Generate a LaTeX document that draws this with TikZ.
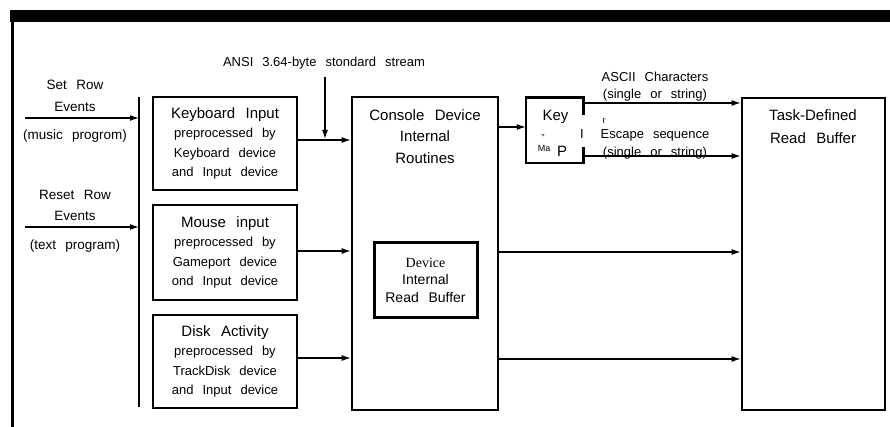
\documentclass[tikz,border=0pt]{standalone}
\usepackage{fontspec}
\setmainfont{Liberation Sans}[WordSpace=2.5]
\newfontfamily\devserif{Liberation Serif}
\usetikzlibrary{arrows.meta}
\tikzset{
  box/.style={draw, line width=2.6pt, inner sep=0pt, align=center},
  hd/.style={font=\fontsize{15}{21.5}\selectfont},
  bd/.style={font=\fontsize{13}{19.3}\selectfont},
  lft/.style={font=\fontsize{13.5}{16}\selectfont, inner sep=0pt},
  lbl/.style={inner sep=0pt, align=center},
  conn/.style={line width=1.3pt},
  arr/.style={conn, -{Latex[length=9pt,width=6pt]}},
  tiny/.style={font=\fontsize{9}{10}\selectfont, inner sep=0pt}
}
\begin{document}
\begin{tikzpicture}[x=1pt,y=1pt]
\useasboundingbox (0,0) rectangle (890,-427);
% frame
\fill (10,-10) rectangle (890,-22);
\draw[line width=2.2pt] (12.5,-10) -- (12.5,-427);

% left labels and bracket
\coordinate (brkT) at (139,-97);
\coordinate (brkB) at (139,-407);
\draw[line width=1.8pt] (brkT) -- (brkB);
\node[lft] (sr1) at (75,-85) {Set Row};
\node[lft] (sr2) at (75,-107) {Events};
\node[lft] (sr3) at (75,-136) {(music progrom)};
\node[lft] (rr1) at (75,-195) {Reset Row};
\node[lft] (rr2) at (75,-216) {Events};
\node[lft] (rr3) at (75,-246) {(text program)};
\coordinate (srS) at (25,-118);
\coordinate (rrS) at (25,-227);
\draw[arr] (srS) -- (brkT |- srS);
\draw[arr] (rrS) -- (brkT |- rrS);

% input boxes
\node[box, bd, minimum width=144pt, minimum height=93pt] (kb) at (225,-143.5)
  {{\fontsize{15}{19.3}\selectfont Keyboard Input}\\preprocessed by\\Keyboard device\\and Input device};
\node[box, bd, minimum width=144pt, minimum height=95pt] (ms) at (225,-252.5)
  {{\fontsize{15}{19.3}\selectfont Mouse input}\\preprocessed by\\Gameport device\\ond Input device};
\node[box, bd, minimum width=144pt, minimum height=93pt] (dk) at (225,-361.5)
  {{\fontsize{15}{19.3}\selectfont Disk Activity}\\preprocessed by\\TrackDisk device\\and Input device};

% console device
\node[box, minimum width=146pt, minimum height=313pt] (con) at (425,-253.5) {};
\node[lbl, hd] (contxt) at (425,-136.5) {Console Device\\Internal\\Routines};
\node[box, line width=3pt, minimum width=103pt, minimum height=74pt, font=\fontsize{14}{17.5}\selectfont] (ib) at (425.5,-280)
  {{\devserif\fontsize{14}{17.5}\selectfont Device}\\Internal\\Read Buffer};

% ANSI stream
\node[lbl, font=\fontsize{13}{15}\selectfont] (ansi) at (324,-63) {ANSI 3.64-byte stondard stream};
\coordinate (ansiS) at (325,-77);
\coordinate (ansiE) at (325,-139);
\draw[arr] (ansiS) -- (ansiE);

% connectors into console
\draw[arr] (kb.east |- 0,-140) -- (con.west |- 0,-140);
\draw[arr] (ms.east |- 0,-251) -- (con.west |- 0,-251);
\draw[arr] (dk.east |- 0,-358) -- (con.west |- 0,-358);

% key map
\node[minimum width=57pt, minimum height=65pt, inner sep=0pt] (km) at (554.5,-130.5) {};
\draw[line width=2.6pt] ([yshift=-17pt]km.north east) -- (km.north east) -- (km.north west)
  -- (km.south west) -- (km.south east) -- ([yshift=16pt]km.south east);
\node[lbl, hd] (kmk) at (555.5,-117) {Key};
\node[tiny] (kmc) at (543,-136) {,,};
\node[tiny] (kmm) at (544,-148) {Ma};
\node[lbl, hd] (kmp) at (562,-151) {P};
\node[lbl, font=\fontsize{13}{15}\selectfont] (kmi) at (582,-134) {I};
\node[tiny] (kmr) at (604,-121) {r};

\draw[arr] (con.east |- 0,-127) -- (km.west |- 0,-127);

% task-defined buffer
\node[box, minimum width=143pt, minimum height=312pt] (task) at (813.5,-254) {};
\node[lbl, font=\fontsize{15}{23}\selectfont] (tasktxt) at (813,-126.5) {Task-Defined\\Read Buffer};

% outputs of key map
\node[lbl, bd] (asc1) at (655,-77) {ASCII Characters};
\node[lbl, bd] (asc2) at (655,-95) {(single or string)};
\node[lbl, bd] (esc1) at (655,-135) {Escape sequence};
\node[lbl, bd] (esc2) at (655,-153) {(single or string)};
\draw[arr] (km.east |- 0,-103) -- (task.west |- 0,-103);
\draw[arr] (km.east |- 0,-156) -- (task.west |- 0,-156);

% console to task
\draw[arr] (con.east |- 0,-252) -- (task.west |- 0,-252);
\draw[arr] (con.east |- 0,-359) -- (task.west |- 0,-359);
\end{tikzpicture}
\end{document}
